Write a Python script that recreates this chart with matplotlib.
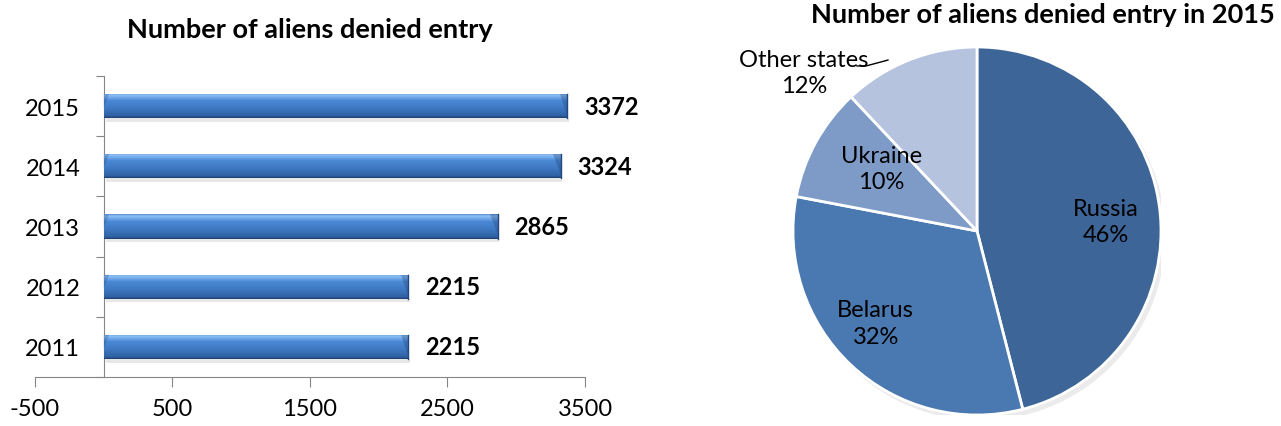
import numpy as np
import matplotlib
matplotlib.use("Agg")
import matplotlib.pyplot as plt
from matplotlib.colors import LinearSegmentedColormap

plt.rcParams['font.family'] = ['Lato', 'DejaVu Sans']

# data
years = ["2011", "2012", "2013", "2014", "2015"]
denied = [2215, 2215, 2865, 3324, 3372]

countries = ["Russia", "Belarus", "Ukraine", "Other states"]
shares = [46, 32, 10, 12]
pie_colors = ["#3d6597", "#4a78b0", "#7e9bc8", "#b5c3de"]

x_ticks = [-500, 500, 1500, 2500, 3500]

fig = plt.figure(figsize=(12.81, 4.27), dpi=100)

# bar chart
ax = fig.add_axes([35 / 1281, 1 - 378 / 427, 550 / 1281, 301 / 427])
ypos = np.arange(len(years))
bars = ax.barh(ypos, denied, height=0.4, left=0, color="#4a86d2", zorder=2)

# cylinder-like shading on every bar
grad = LinearSegmentedColormap.from_list(
    "cyl", [(0.0, "#1f3f6e"), (0.08, "#2f61a3"), (0.4, "#3f79c3"),
            (0.7, "#4a88d4"), (0.82, "#6ea6ea"), (0.93, "#8ec0f3"),
            (1.0, "#5a90d4")])
g = np.linspace(0, 1, 64).reshape(-1, 1)
for b in bars:
    x0, y0 = b.get_x(), b.get_y()
    w, h = b.get_width(), b.get_height()
    x1 = x0 + w
    im = ax.imshow(g, cmap=grad, aspect="auto", origin="lower",
                   extent=(x0, x1, y0, y0 + h), zorder=3)
    im.set_clip_path(b)
    # bevelled ends
    ax.fill([x1 - 55, x1, x1], [y0 + h, y0 + h, y0 + 0.15 * h],
            color="#1d3c6a", alpha=0.3, lw=0, zorder=4)
    ax.plot([x1, x1], [y0, y0 + h], color="#24497e", lw=1, zorder=4)
    ax.fill([x0, x0 + 40, x0], [y0 + h, y0 + h, y0 + 0.45 * h],
            color="#1d3c6a", alpha=0.25, lw=0, zorder=4)
    # soft shadow below the bar
    ax.fill_between([x0 + 20, x1 + 10], y0 - 0.06, y0,
                    color="#d9d9d9", alpha=0.6, lw=0, zorder=1)
    ax.annotate(f"{w:.0f}", xy=(x1, y0 + h / 2), xytext=(12, 0),
                textcoords="offset points", ha="left", va="center",
                fontsize=17, fontweight="bold", color="black")

ax.set_xlim(-500, 3500)
ax.set_ylim(-0.5, len(years) - 0.5)
ax.set_xticks(x_ticks)
ax.set_xticklabels([str(t) for t in x_ticks])
ax.set_yticks(np.arange(-0.5, len(years), 1.0))
ax.set_yticklabels([])
ax.set_yticks(ypos, minor=True)
ax.set_yticklabels(years, minor=True)
ax.tick_params(axis="y", which="major", direction="out", length=6, color="#868686")
ax.tick_params(axis="y", which="minor", length=0, pad=17, labelsize=17)
ax.tick_params(axis="x", direction="out", length=7, pad=8, color="#868686",
               labelsize=17)
for s in ["top", "right"]:
    ax.spines[s].set_visible(False)
ax.spines["left"].set_position(("data", 0))
ax.spines["left"].set_color("#868686")
ax.spines["bottom"].set_color("#868686")
ax.patch.set_visible(False)

fig.text(310 / 1281, 1 - 30 / 427, "Number of aliens denied entry",
         ha="center", va="center", fontsize=19.5, fontweight="bold")

# pie chart
pax = fig.add_axes([(977 - 184) / 1281, (427 - 232 - 184) / 427, 368 / 1281, 368 / 427])
# faint shadow
shadow = plt.Circle((0.02, -0.025), 1.0, color="#ebebeb", zorder=0)
pax.add_patch(shadow)
wedges, _ = pax.pie(shares, colors=pie_colors, startangle=90, counterclock=False,
                    radius=1.0, wedgeprops=dict(edgecolor="white", linewidth=2))
pax.set_xlim(-1, 1)
pax.set_ylim(-1, 1)
pax.set_aspect("equal")
pax.axis("off")

label_pos = {
    "Russia": (0.70, 0.05),
    "Belarus": (-0.55, -0.50),
    "Ukraine": (-0.52, 0.34),
    "Other states": (-0.94, 0.86),
}
for name, pct in zip(countries, shares):
    lx, ly = label_pos[name]
    pax.text(lx, ly, f"{name}\n{pct}%", ha="center", va="center",
             fontsize=17, color="black", linespacing=1.3, clip_on=False)

# leader line for the outside label
pax.plot([-0.652, -0.603, -0.484], [0.897, 0.897, 0.929], color="black", lw=1,
         clip_on=False)

fig.text(1043 / 1281, 1 - 15 / 427, "Number of aliens denied entry in 2015",
         ha="center", va="center", fontsize=19.5, fontweight="bold")

fig.savefig("out.png", dpi=100)
